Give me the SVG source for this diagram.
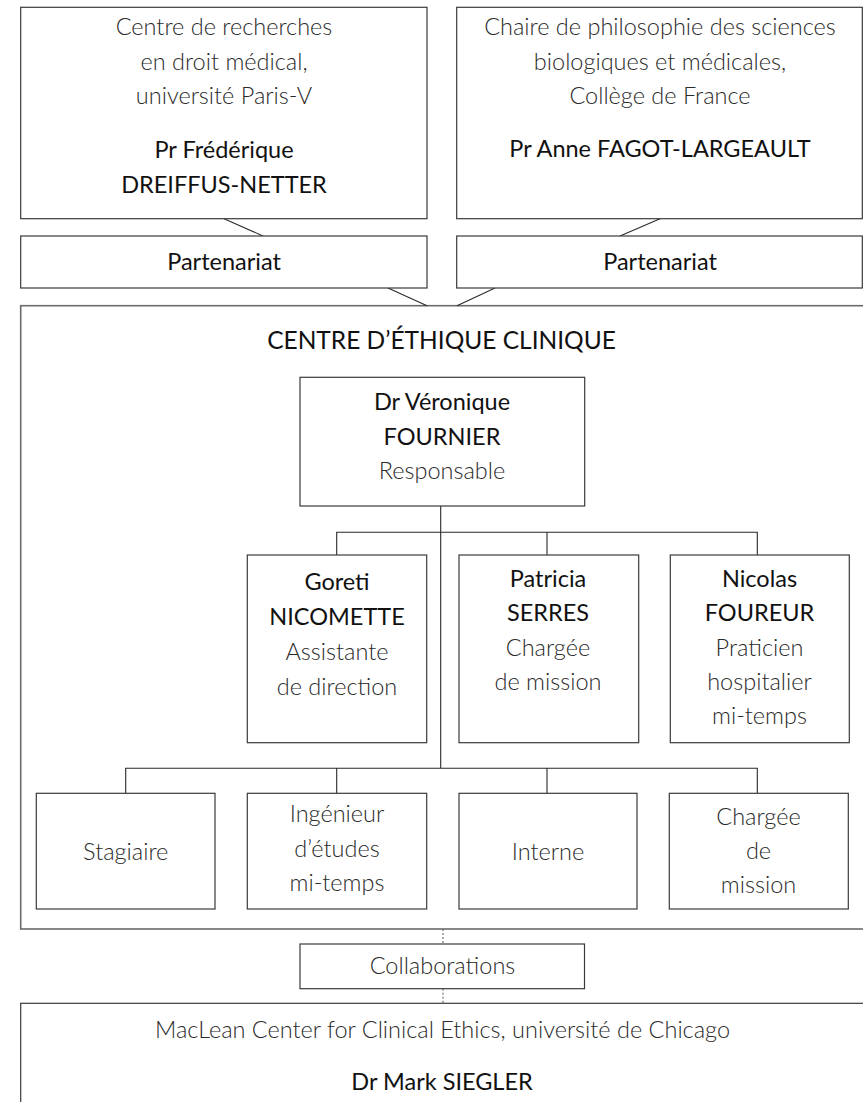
<svg xmlns="http://www.w3.org/2000/svg" width="863" height="1102" viewBox="0 0 863 1102">
<style>
.box{fill:#fff;stroke:#3a3a3a;stroke-width:1.2}
.outer{fill:#fff;stroke:#6a6a6a;stroke-width:1.6}
.con{fill:none;stroke:#2a2a2a;stroke-width:1.1}
.dot{fill:none;stroke:#555;stroke-width:1;stroke-dasharray:2 2}
text{font-family:Lato,"Liberation Sans",sans-serif;font-size:23.5px;text-anchor:middle}
.l{font-weight:300;fill:#2a2a2a}
.n{font-weight:400;fill:#111}
</style>
<rect width="863" height="1102" fill="#fff"/>
<g id="main">
<rect class="outer" x="20.7" y="305.7" width="845" height="623.3"/>
<text class="n" x="441.5" y="349" style="font-size:24.5px">CENTRE D’ÉTHIQUE CLINIQUE</text>
</g>
<g id="connectors">
<line class="con" x1="224" y1="218.7" x2="263" y2="236"/>
<line class="con" x1="660" y1="218.7" x2="620" y2="236"/>
<line class="con" x1="388" y1="288" x2="427" y2="305.7"/>
<line class="con" x1="495" y1="288" x2="457" y2="305.7"/>
<path class="con" d="M440.7 506V768.3M336.7 555V532.3H757.3V555M547 532.3V555M125.7 793.3V768.3H757.3V793.3M336.7 768.3V793.3M547 768.3V793.3"/>
<line class="dot" x1="443" y1="929" x2="443" y2="944"/>
<line class="dot" x1="443" y1="988.7" x2="443" y2="1003.3"/>
</g>
<g id="paris5">
<rect class="box" x="20.7" y="7.3" width="406.3" height="211.4"/>
<text class="l" x="224" y="35">Centre de recherches</text>
<text class="l" x="224" y="70">en droit médical,</text>
<text class="l" x="224" y="104">université Paris-V</text>
<text class="n" x="224" y="158">Pr Frédérique</text>
<text class="n" x="224" y="193">DREIFFUS-NETTER</text>
</g>
<g id="college">
<rect class="box" x="456.7" y="7.3" width="405.6" height="211.4"/>
<text class="l" x="660" y="35">Chaire de philosophie des sciences</text>
<text class="l" x="660" y="70">biologiques et médicales,</text>
<text class="l" x="660" y="104">Collège de France</text>
<text class="n" x="660" y="157">Pr Anne FAGOT-LARGEAULT</text>
</g>
<g id="part1">
<rect class="box" x="20.7" y="236" width="406.3" height="52"/>
<text class="n" x="224" y="270">Partenariat</text>
</g>
<g id="part2">
<rect class="box" x="456.7" y="236" width="405.6" height="52"/>
<text class="n" x="660" y="270">Partenariat</text>
</g>
<g id="fournier">
<rect class="box" x="300" y="377.3" width="284.7" height="128.7"/>
<text class="n" x="442" y="410">Dr Véronique</text>
<text class="n" x="442" y="445">FOURNIER</text>
<text class="l" x="442" y="479">Responsable</text>
</g>
<g id="goreti">
<rect class="box" x="247.3" y="555" width="179.4" height="187.7"/>
<text class="n" x="337" y="590">Goreti</text>
<text class="n" x="337" y="625">NICOMETTE</text>
<text class="l" x="337" y="660">Assistante</text>
<text class="l" x="337" y="695">de direction</text>
</g>
<g id="patricia">
<rect class="box" x="459" y="555" width="179.7" height="187.7"/>
<text class="n" x="548" y="587">Patricia</text>
<text class="n" x="548" y="621">SERRES</text>
<text class="l" x="548" y="656">Chargée</text>
<text class="l" x="548" y="690">de mission</text>
</g>
<g id="nicolas">
<rect class="box" x="670.3" y="555" width="179" height="187.7"/>
<text class="n" x="759.5" y="587">Nicolas</text>
<text class="n" x="759.5" y="621">FOUREUR</text>
<text class="l" x="759.5" y="656">Praticien</text>
<text class="l" x="759.5" y="690">hospitalier</text>
<text class="l" x="759.5" y="724">mi-temps</text>
</g>
<g id="stagiaire">
<rect class="box" x="36.3" y="793.3" width="178.7" height="115.7"/>
<text class="l" x="125.7" y="860">Stagiaire</text>
</g>
<g id="ingenieur">
<rect class="box" x="247.3" y="793.3" width="179.4" height="115.7"/>
<text class="l" x="337" y="822">Ingénieur</text>
<text class="l" x="337" y="857">d’études</text>
<text class="l" x="337" y="891">mi-temps</text>
</g>
<g id="interne">
<rect class="box" x="459" y="793.3" width="178" height="115.7"/>
<text class="l" x="548" y="860">Interne</text>
</g>
<g id="chargee">
<rect class="box" x="669.3" y="793.3" width="179" height="115.7"/>
<text class="l" x="758.5" y="825">Chargée</text>
<text class="l" x="758.5" y="859">de</text>
<text class="l" x="758.5" y="893">mission</text>
</g>
<g id="collaborations">
<rect class="box" x="300" y="944" width="284.5" height="44.7"/>
<text class="l" x="442.5" y="974">Collaborations</text>
</g>
<g id="chicago">
<rect class="box" x="20.7" y="1003.3" width="846" height="110"/>
<text class="l" x="442.5" y="1038">MacLean Center for Clinical Ethics, université de Chicago</text>
<text class="n" x="442" y="1090">Dr Mark SIEGLER</text>
</g>
</svg>
